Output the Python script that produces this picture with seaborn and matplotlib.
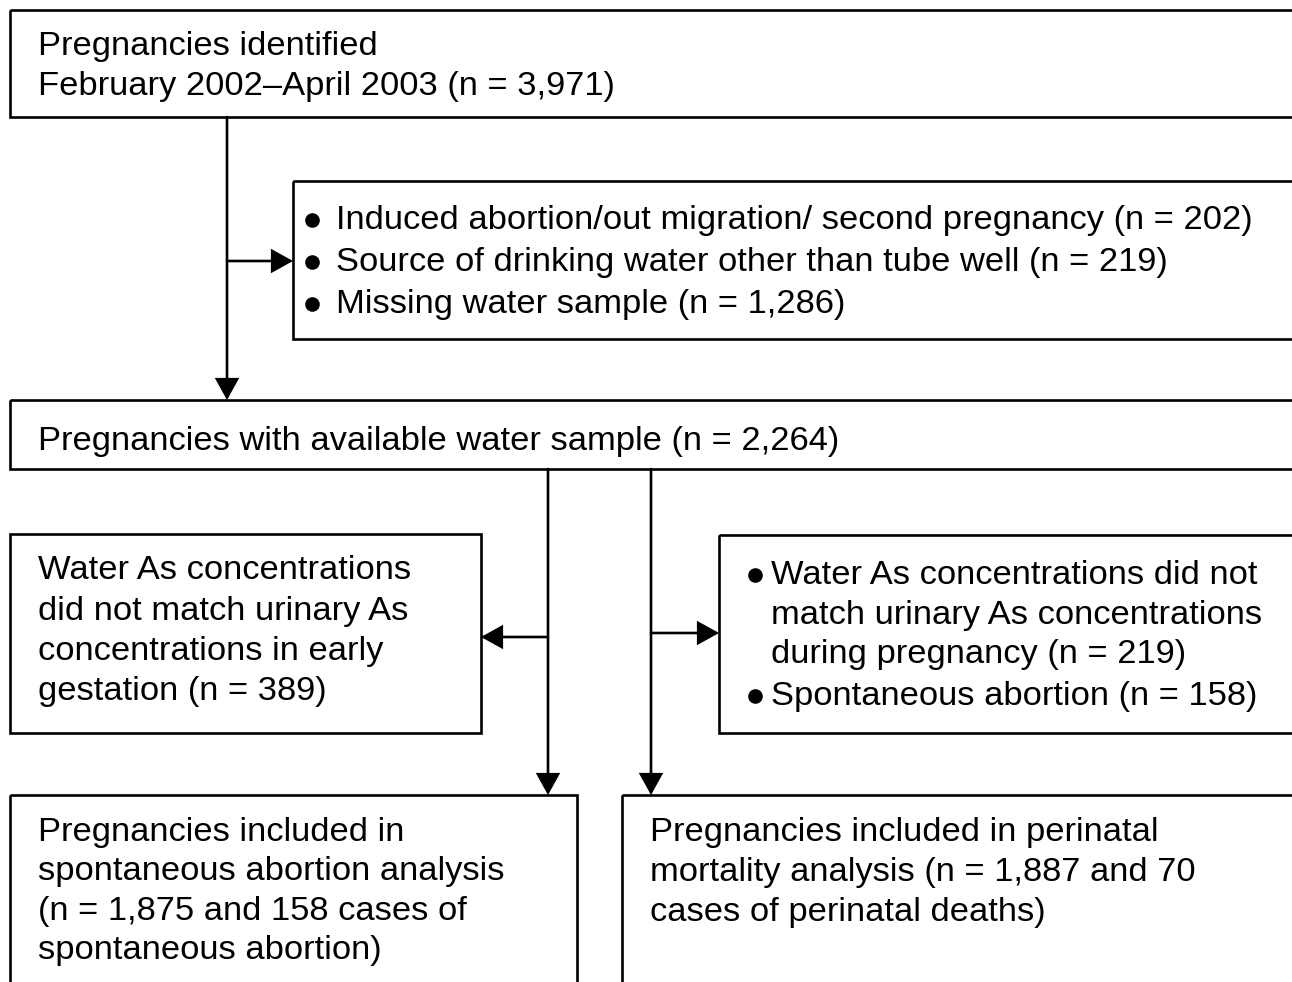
import matplotlib
matplotlib.use("Agg")
import matplotlib.pyplot as plt
import seaborn as sns
from matplotlib.patches import Rectangle, FancyArrowPatch

# =============================================================================
# DADOS: textos e contagens do fluxograma
# =============================================================================
total_identified = "3,971"
period = "February 2002\u2013April 2003"
excluded_first = [
    ("Induced abortion/out migration/ second pregnancy", 202),
    ("Source of drinking water other than tube well", 219),
    ("Missing water sample", "1,286"),
]
available_water = "2,264"
no_match_early = 389
excluded_perinatal = [
    (["Water As concentrations did not", "match urinary As concentrations",
      "during pregnancy (n = {})"], 219),
    (["Spontaneous abortion (n = {})"], 158),
]
sa_analysis = ("1,875", 158)
pm_analysis = ("1,887", 70)

# textos montados a partir dos dados
box1_lines = ["Pregnancies identified", f"{period} (n = {total_identified})"]
box2_items = [f"{t} (n = {n})" for t, n in excluded_first]
box3_lines = [f"Pregnancies with available water sample (n = {available_water})"]
box4_lines = ["Water As concentrations", "did not match urinary As",
              "concentrations in early", f"gestation (n = {no_match_early})"]
box5_items = [[ln.format(n) for ln in lines] for lines, n in excluded_perinatal]
box6_lines = ["Pregnancies included in", "spontaneous abortion analysis",
              f"(n = {sa_analysis[0]} and {sa_analysis[1]} cases of",
              "spontaneous abortion)"]
box7_lines = ["Pregnancies included in perinatal",
              f"mortality analysis (n = {pm_analysis[0]} and {pm_analysis[1]}",
              "cases of perinatal deaths)"]

# =============================================================================
# LAYOUT (coordenadas em pixels da imagem)
# =============================================================================
W, H = 1292, 982
sns.set_theme(style="white")
plt.rcParams['font.family'] = ['Liberation Sans', 'DejaVu Sans']
plt.rcParams['text.color'] = 'black'

fig = plt.figure(figsize=(W / 100, H / 100), dpi=100)
ax = fig.add_axes([0, 0, 1, 1])
ax.set_xlim(0, W)
ax.set_ylim(H, 0)
ax.axis("off")

LW = 1.9
FS = 24.8


def caixa(x0, y0, x1, y1):
    ax.add_patch(Rectangle((x0, y0), x1 - x0, y1 - y0, fill=False,
                           edgecolor="black", linewidth=LW))


def linhas(x, baselines, textos):
    for y, t in zip(baselines, textos):
        ax.text(x, y, t, fontsize=FS, va="baseline", ha="left", color="black")


def bullet(x, y):
    # marcador redondo das listas
    ax.plot([x], [y], marker="o", markersize=9.5, color="black", linestyle="none")


def seta(p0, p1):
    ax.add_patch(FancyArrowPatch(p0, p1, arrowstyle="-|>,head_length=0.65,head_width=0.36",
                                 mutation_scale=20, color="black", linewidth=LW,
                                 shrinkA=0, shrinkB=0, joinstyle="miter"))


# caixa 1
caixa(10, 10, W + 20, 117)
linhas(38, [55, 95], box1_lines)

# caixa 2 (exclusões)
caixa(293, 181, W + 20, 339)
for y, t in zip([229, 271, 313], box2_items):
    bullet(312, y - 9)
    linhas(336, [y], [t])

# setas superiores
seta((227, 117), (227, 400))
seta((227, 261), (293, 261))

# caixa 3
caixa(10, 400, W + 20, 469)
linhas(38, [450], box3_lines)

# caixa 4
caixa(10, 534, 481, 733)
linhas(38, [579, 620, 660, 700], box4_lines)

# caixa 5
caixa(719, 535, W + 20, 733)
ys5 = [[584, 624, 663], [705]]
for item, ys in zip(box5_items, ys5):
    bullet(755, ys[0] - 9)
    linhas(771, ys, item)

# setas do meio
seta((548, 469), (548, 795))
seta((548, 637), (481, 637))
seta((651, 469), (651, 795))
seta((651, 633), (719, 633))

# caixas inferiores
caixa(10, 795, 577, H + 20)
linhas(38, [841, 880, 920, 959], box6_lines)
caixa(622, 795, W + 20, H + 20)
linhas(650, [841, 881, 921], box7_lines)

fig.savefig("out.png", dpi=100, facecolor="white")
